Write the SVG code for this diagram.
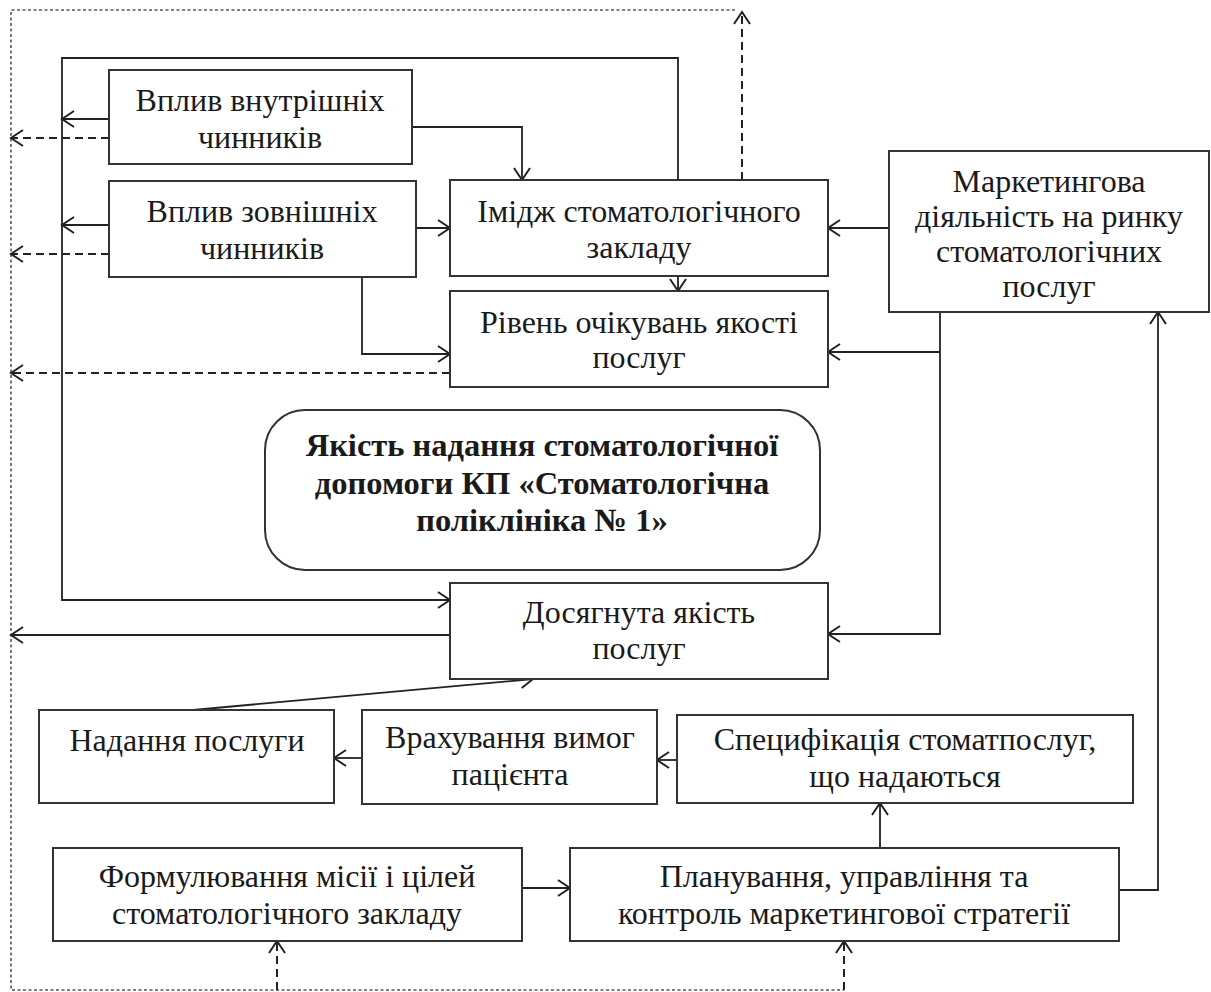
<svg xmlns="http://www.w3.org/2000/svg" width="1211" height="992" viewBox="0 0 1211 992">
<style>
.box{fill:#fff;stroke:#333;stroke-width:2}
.t{font-family:"Liberation Serif","Times New Roman",serif;font-size:32px;fill:#1a1a1a;text-anchor:middle}
.b{font-weight:bold;font-size:32.5px}
.c{fill:none;stroke:#222;stroke-width:1.8;marker-end:url(#ah)}
.d{fill:none;stroke:#222;stroke-width:2;stroke-dasharray:8,5;marker-end:url(#ah)}
.frame{fill:none;stroke:#555;stroke-width:1.6;stroke-dasharray:3,2.5}
</style>
<defs>
<marker id="ah" markerUnits="userSpaceOnUse" markerWidth="16" markerHeight="20" viewBox="-14 -10 16 20" refX="0" refY="0" orient="auto">
<path d="M-12,-8 L0,0 L-12,8" fill="none" stroke="#222" stroke-width="2"/>
</marker>
</defs>
<rect width="1211" height="992" fill="#fff"/>
<g id="connectors">
<path class="frame" d="M735,10 H11 V990 H844"/>
<path class="c" d="M678,180 V58 H62 V600 H450"/>
<path class="c" d="M109,119 H62"/>
<path class="c" d="M109,225 H62"/>
<path class="c" d="M412,127 H522 V180"/>
<path class="c" d="M416,228 H450"/>
<path class="c" d="M362,277 V354 H450"/>
<path class="c" d="M678,276 V291"/>
<path class="c" d="M889,228 H828"/>
<path class="c" d="M940,312 V634 H828"/>
<path class="c" d="M940,352 H828"/>
<path class="c" d="M1119,890 H1158 V312"/>
<path class="c" d="M450,635 H11"/>
<path class="c" d="M193,710 L533,679"/>
<path class="c" d="M362,758 H334"/>
<path class="c" d="M677,760 H657"/>
<path class="c" d="M880,848 V803"/>
<path class="c" d="M522,888 H570"/>
<path class="d" d="M109,138 H11"/>
<path class="d" d="M109,254 H11"/>
<path class="d" d="M450,373 H11"/>
<path class="d" d="M742,180 V12"/>
<path class="d" d="M277,990 V941"/>
<path class="d" d="M844,990 V941"/>
</g>
<g id="n1"><rect class="box" x="109" y="70" width="303" height="94"/><text class="t" x="260" y="111">Вплив внутрішніх</text><text class="t" x="260" y="148">чинників</text></g>
<g id="n2"><rect class="box" x="109" y="181" width="307" height="96"/><text class="t" x="262" y="222">Вплив зовнішніх</text><text class="t" x="262" y="259">чинників</text></g>
<g id="n3"><rect class="box" x="450" y="180" width="378" height="96"/><text class="t" x="639" y="222">Імідж стоматологічного</text><text class="t" x="639" y="258">закладу</text></g>
<g id="n4"><rect class="box" x="889" y="151" width="320" height="161"/><text class="t" x="1049" y="192">Маркетингова</text><text class="t" x="1049" y="227">діяльність на ринку</text><text class="t" x="1049" y="262">стоматологічних</text><text class="t" x="1049" y="297">послуг</text></g>
<g id="n5"><rect class="box" x="450" y="291" width="378" height="96"/><text class="t" x="639" y="333">Рівень очікувань якості</text><text class="t" x="639" y="368">послуг</text></g>
<g id="n6"><rect class="box" x="265" y="410" width="555" height="160" rx="40" ry="40"/><text class="t b" x="542" y="456">Якість надання стоматологічної</text><text class="t b" x="542" y="494">допомоги КП «Стоматологічна</text><text class="t b" x="542" y="531">поліклініка № 1»</text></g>
<g id="n7"><rect class="box" x="450" y="583" width="378" height="96"/><text class="t" x="639" y="623">Досягнута якість</text><text class="t" x="639" y="659">послуг</text></g>
<g id="n8"><rect class="box" x="39" y="710" width="295" height="93"/><text class="t" x="187" y="751">Надання послуги</text></g>
<g id="n9"><rect class="box" x="362" y="710" width="295" height="94"/><text class="t" x="510" y="748">Врахування вимог</text><text class="t" x="510" y="785">пацієнта</text></g>
<g id="n10"><rect class="box" x="677" y="715" width="456" height="88"/><text class="t" x="905" y="750">Специфікація стоматпослуг,</text><text class="t" x="905" y="787">що надаються</text></g>
<g id="n11"><rect class="box" x="53" y="848" width="469" height="93"/><text class="t" x="287" y="887">Формулювання місії і цілей</text><text class="t" x="287" y="924">стоматологічного закладу</text></g>
<g id="n12"><rect class="box" x="570" y="848" width="549" height="93"/><text class="t" x="844" y="887">Планування, управління та</text><text class="t" x="844" y="924">контроль маркетингової стратегії</text></g>
</svg>
